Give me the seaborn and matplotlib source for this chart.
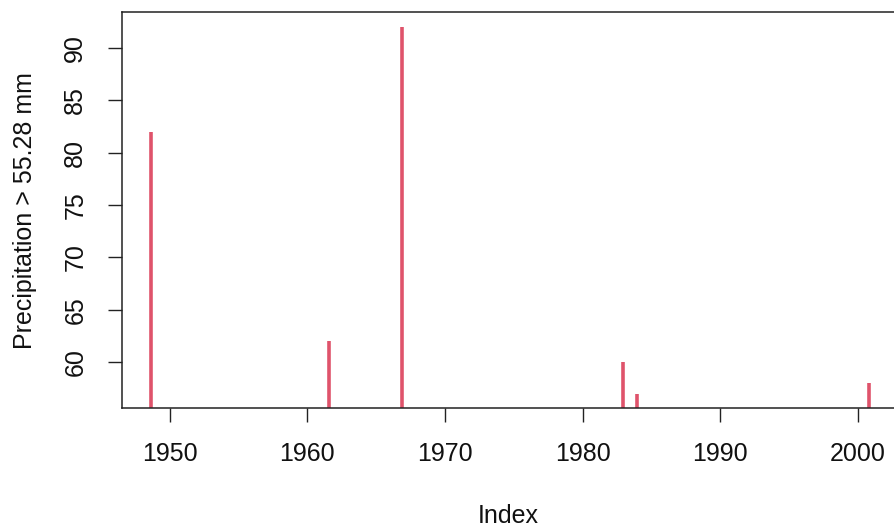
import numpy as np
import pandas as pd
import matplotlib
matplotlib.use("Agg")
import matplotlib.pyplot as plt
import seaborn as sns

# Annual exceedances over the threshold
threshold = 55.28
years = [1948.63, 1961.58, 1966.88, 1982.90, 1983.97, 2000.78]
precip = [82.0, 62.0, 92.0, 60.0, 57.0, 58.0]
x_ticks = [1950, 1960, 1970, 1980, 1990, 2000]
y_ticks = [60, 65, 70, 75, 80, 85, 90]

sns.set_style("white")
plt.rcParams["font.family"] = ["Liberation Sans", "DejaVu Sans"]

# Each stem is a two-point segment from the threshold up to the value
rows = []
for i, (yr, p) in enumerate(zip(years, precip)):
    rows.append({"event": i, "year": yr, "value": threshold})
    rows.append({"event": i, "year": yr, "value": p})
stems = pd.DataFrame(rows)

fig = plt.figure(figsize=(8.94, 5.28), dpi=100)
ax = fig.add_axes([0.1365, 0.2267, 0.8673, 0.75])

sns.lineplot(data=stems, x="year", y="value", units="event", estimator=None,
             color="#DF536B", linewidth=2.6, solid_capstyle="butt", ax=ax,
             legend=False)

# R-style 4% padding around the data range
def padded(vals, frac=0.04):
    lo, hi = min(vals), max(vals)
    d = (hi - lo) * frac
    return lo - d, hi + d

ax.set_xlim(*padded(years))
ax.set_ylim(*padded(precip))

ax.set_xticks(x_ticks)
ax.set_yticks(y_ticks)
ax.set_xticklabels([str(t) for t in x_ticks])
ax.set_yticklabels([str(t) for t in y_ticks], rotation=90, va="center")

for s in ax.spines.values():
    s.set_color("#222222")
    s.set_linewidth(1.1)

ax.tick_params(axis="both", direction="out", length=10, width=1.0,
               color="#222222", labelsize=18, labelcolor="#111111",
               bottom=True, left=True)
ax.tick_params(axis="x", pad=14)
ax.tick_params(axis="y", pad=15)

ax.set_xlabel("Index", fontsize=18, color="#111111", va="center")
ax.set_ylabel("Precipitation > 55.28 mm", fontsize=18, color="#111111",
              va="center")
ax.xaxis.set_label_coords(0.498, -0.272)
ax.yaxis.set_label_coords(-0.1257, 0.5)

fig.savefig("out.png", dpi=100)
